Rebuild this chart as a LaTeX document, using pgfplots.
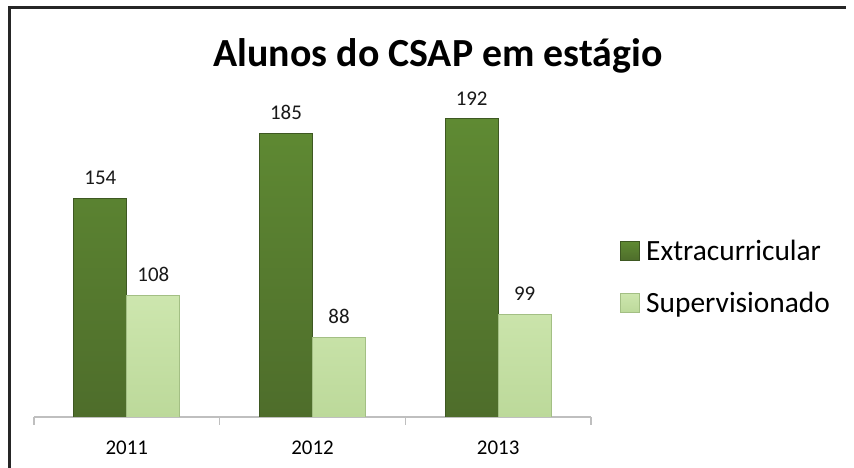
\documentclass[border=0pt]{standalone}
\usepackage{pgfplots}
\pgfplotsset{compat=1.18}
\usepackage{fontspec}
\setmainfont{Carlito}
\definecolor{darkgtop}{HTML}{5F8A33}
\definecolor{darkgbot}{HTML}{4E6D2B}
\definecolor{darkgedge}{HTML}{3E5822}
\definecolor{lightgtop}{HTML}{CDE6AE}
\definecolor{lightgbot}{HTML}{BCD99A}
\definecolor{lightgedge}{HTML}{A3BF84}
\definecolor{axisgray}{HTML}{BFBFBF}
\begin{document}
\begin{tikzpicture}[x=1bp,y=1bp]
\useasboundingbox (0,0) rectangle (854,468);
\fill[white] (0,0) rectangle (854,468);
\draw[line width=3bp,color=black!85] (9,0) -- (9,460) -- (846,460);
\node[font=\bfseries\fontsize{40}{44}\selectfont, anchor=base] at (438,401) {Alunos do CSAP em estágio};
\begin{axis}[
  at={(34bp,51bp)}, anchor=south west,
  scale only axis, width=557bp, height=315bp,
  ybar=0pt, bar width=53bp,
  xmin=-0.5, xmax=2.5, ymin=50, ymax=200,
  axis y line=none,
  axis x line*=bottom,
  x axis line style={axisgray, line width=1.5bp, -},
  xtick={0,1,2}, xticklabels={2011,2012,2013},
  major tick length=0bp,
  minor xtick={-0.5,0.5,1.5,2.5},
  minor tick length=8bp,
  tick align=outside,
  minor x tick style={axisgray, line width=1.5bp},
  xticklabel style={font=\fontsize{21}{24}\selectfont, yshift=-20bp},
  /pgf/number format/assume math mode=true,
  nodes near coords,
  every node near coord/.append style={font=\fontsize{21}{24}\selectfont, text=black!90, yshift=10bp},
  legend style={at={(1.046,0.443)}, anchor=west, draw=none, fill=none,
    font=\fontsize{29.5}{33}\selectfont, row sep=26bp},
  legend cell align=left,
  legend image code/.code={\draw[#1] (0bp,-9bp) rectangle (19bp,10bp); \path[draw=none,fill=none] (0bp,0bp) -- (24bp,0bp);},
  clip=true,
]
\addplot[top color=darkgtop, bottom color=darkgbot, draw=darkgedge, line width=0.8bp] coordinates {(0,154) (1,185) (2,192)};
\addplot[top color=lightgtop, bottom color=lightgbot, draw=lightgedge, line width=0.8bp] coordinates {(0,108) (1,88) (2,99)};
\legend{Extracurricular, Supervisionado}
\end{axis}
\end{tikzpicture}
\end{document}
